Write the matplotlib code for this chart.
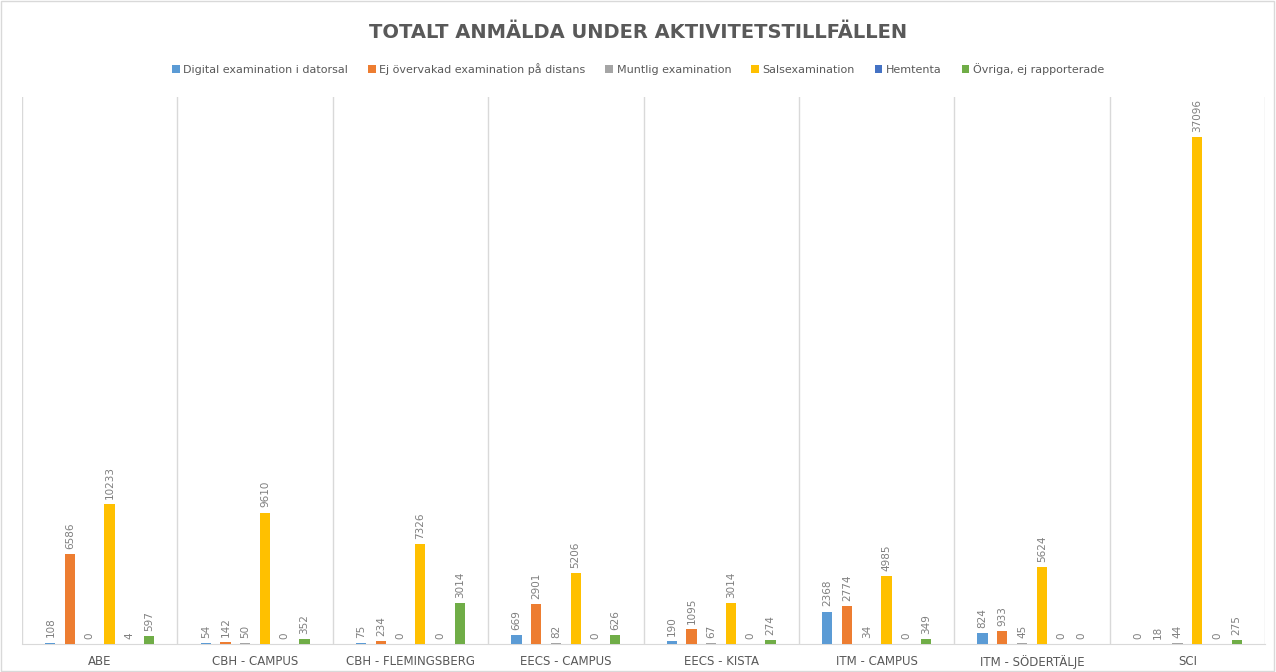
import matplotlib

matplotlib.use("Agg")
import matplotlib.pyplot as plt
import numpy as np
from matplotlib.patches import Rectangle

categories = ["ABE", "CBH - CAMPUS", "CBH - FLEMINGSBERG", "EECS - CAMPUS",
              "EECS - KISTA", "ITM - CAMPUS", "ITM - SÖDERTÄLJE", "SCI"]
series_names = ["Digital examination i datorsal", "Ej övervakad examination på distans",
                "Muntlig examination", "Salsexamination", "Hemtenta",
                "Övriga, ej rapporterade"]
digital = [108, 54, 75, 669, 190, 2368, 824, 0]
ej_overvakad = [6586, 142, 234, 2901, 1095, 2774, 933, 18]
muntlig = [0, 50, 0, 82, 67, 34, 45, 44]
sals = [10233, 9610, 7326, 5206, 3014, 4985, 5624, 37096]
hemtenta = [4, 0, 0, 0, 0, 0, 0, 0]
ovriga = [597, 352, 3014, 626, 274, 349, 0, 275]
colors = ["#5B9BD5", "#ED7D31", "#A5A5A5", "#FFC000", "#4472C4", "#70AD47"]

values = [digital, ej_overvakad, muntlig, sals, hemtenta, ovriga]
text_col = "#595959"
label_col = "#7F7F7F"
grid_col = "#D9D9D9"

fig = plt.figure(figsize=(12.76, 6.72), dpi=100)
ax = fig.add_axes([22 / 1276, 28 / 672, 1243 / 1276, 547 / 672])

x = np.arange(len(categories))
step = 0.127
width = 0.066
for i, (name, vals, c) in enumerate(zip(series_names, values, colors)):
    pos = x + (i - 2.5) * step
    ax.bar(pos, vals, width=width, color=c, label=name, zorder=3)
    for px, v in zip(pos, vals):
        ax.text(px, v + 380, str(v), rotation=90, ha="center", va="bottom",
                fontsize=7.5, color=label_col)

# separators between the categories
for b in np.arange(-0.5, len(categories) + 0.5, 1.0):
    ax.axvline(b, color=grid_col, lw=1, zorder=1)

ax.set_xlim(-0.5, len(categories) - 0.5)
ax.set_ylim(0, 40000)
ax.set_yticks([])
ax.set_xticks(x)
ax.set_xticklabels(categories, fontsize=8.5, color=text_col)
ax.tick_params(axis="x", length=0, pad=8)
for s in ["top", "right", "left"]:
    ax.spines[s].set_visible(False)
ax.spines["bottom"].set_color(grid_col)

fig.text(0.5, 0.952, "TOTALT ANMÄLDA UNDER AKTIVITETSTILLFÄLLEN", ha="center",
         va="center", fontsize=14, fontweight="bold", color=text_col)
fig.legend(loc="center", bbox_to_anchor=(0.5, 0.897), ncol=6, frameon=False,
           fontsize=8, handlelength=0.7, handleheight=0.7, handletextpad=0.3,
           columnspacing=1.8, labelcolor=text_col)

fig.add_artist(Rectangle((0.0005, 0.001), 0.998, 0.997, transform=fig.transFigure,
                         fill=False, edgecolor=grid_col, lw=1))

fig.savefig("out.png", dpi=100)
